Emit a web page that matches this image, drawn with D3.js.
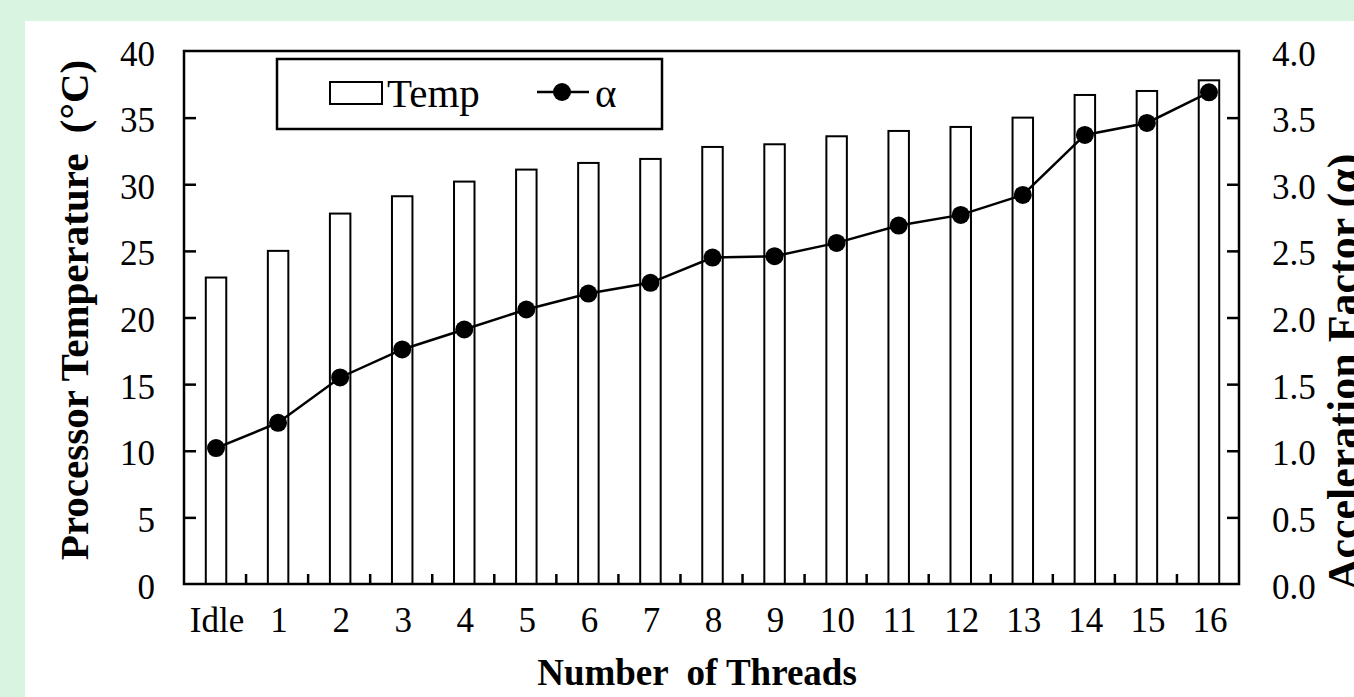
<!DOCTYPE html>
<html>
<head>
<meta charset="utf-8">
<script src="https://cdn.jsdelivr.net/npm/d3@7"></script>
<style>
  html, body { margin: 0; padding: 0; background: #d9f5e1; overflow: hidden; }
  svg { display: block; font-family: "Liberation Serif", "Times New Roman", serif; }
  text { white-space: pre; }
</style>
</head>
<body>
<svg id="chart" width="1354" height="697"></svg>
<script>
// values
const categories = ["Idle", "1", "2", "3", "4", "5", "6", "7", "8", "9", "10", "11", "12", "13", "14", "15", "16"];
const tempValues = [23.0, 25.0, 27.8, 29.1, 30.2, 31.1, 31.6, 31.9, 32.8, 33.0, 33.6, 34.0, 34.3, 35.0, 36.7, 37.0, 37.8];
const alphaValues = [1.02, 1.21, 1.55, 1.76, 1.91, 2.06, 2.18, 2.26, 2.45, 2.46, 2.56, 2.69, 2.77, 2.92, 3.37, 3.46, 3.69];
const leftTicks = [0, 5, 10, 15, 20, 25, 30, 35, 40];
const rightTicks = [0, 0.5, 1, 1.5, 2, 2.5, 3, 3.5, 4];

const svg = d3.select("#chart");
const W = 1354, H = 697;
const plot = { left: 184, right: 1239, top: 51, bottom: 584 };

// white panel
svg.append("rect").attr("x", 25).attr("y", 21).attr("width", W - 25).attr("height", H - 21).attr("fill", "#fff");

const x = d3.scaleBand().domain(categories).range([plot.left, plot.right]).padding(0);
const yL = d3.scaleLinear().domain([0, 40]).range([plot.bottom, plot.top]);
const yR = d3.scaleLinear().domain([0, 4]).range([plot.bottom, plot.top]);
const barW = x.bandwidth() * 0.33;
const cx = (i) => x(categories[i]) + x.bandwidth() / 2 + 1;

const g = svg.append("g");

// bars
g.selectAll("rect.bar")
  .data(tempValues)
  .join("rect")
  .attr("class", "bar")
  .attr("x", (d, i) => cx(i) - barW / 2)
  .attr("y", (d) => yL(d))
  .attr("width", barW)
  .attr("height", (d) => plot.bottom - yL(d))
  .attr("fill", "#fff")
  .attr("stroke", "#000")
  .attr("stroke-width", 2);

// frame
g.append("rect")
  .attr("x", plot.left).attr("y", plot.top)
  .attr("width", plot.right - plot.left).attr("height", plot.bottom - plot.top)
  .attr("fill", "none").attr("stroke", "#000").attr("stroke-width", 2.5);

// left axis (ticks inward)
const axL = d3.axisLeft(yL).tickValues(leftTicks).tickSize(-12).tickPadding(29).tickFormat(d3.format("d"));
const gL = svg.append("g").attr("transform", `translate(${plot.left},0)`).call(axL);
// right axis (ticks inward)
const axR = d3.axisRight(yR).tickValues(rightTicks).tickSize(-12).tickPadding(33).tickFormat(d3.format(".1f"));
const gR = svg.append("g").attr("transform", `translate(${plot.right},0)`).call(axR);

[gL, gR].forEach((a) => {
  a.select(".domain").remove();
  a.selectAll(".tick line").attr("stroke", "#000").attr("stroke-width", 2.5);
  a.selectAll(".tick text").attr("fill", "#000").attr("font-size", 35).attr("dy", "0.4em")
    .attr("font-family", "Liberation Serif, Times New Roman, serif");
});
gL.selectAll(".tick").filter((d) => d === 0 || d === 40).select("line").remove();
gR.selectAll(".tick").filter((d) => d === 0 || d === 4).select("line").remove();

// x tick marks at band boundaries, pointing up
const bounds = categories.slice(1).map((c) => x(c));
g.selectAll("line.xtick")
  .data(bounds)
  .join("line")
  .attr("x1", (d) => d).attr("x2", (d) => d)
  .attr("y1", plot.bottom).attr("y2", plot.bottom - 10)
  .attr("stroke", "#000").attr("stroke-width", 2.5);

// x labels
g.selectAll("text.xlab")
  .data(categories)
  .join("text")
  .attr("x", (d, i) => cx(i) + 1)
  .attr("y", 632)
  .attr("text-anchor", "middle")
  .attr("font-size", 35)
  .text((d) => d);

// alpha line + markers
const line = d3.line().x((d, i) => cx(i)).y((d) => yR(d));
g.append("path").datum(alphaValues).attr("d", line)
  .attr("fill", "none").attr("stroke", "#000").attr("stroke-width", 2.5);
g.selectAll("circle.pt")
  .data(alphaValues)
  .join("circle")
  .attr("class", "pt")
  .attr("cx", (d, i) => cx(i))
  .attr("cy", (d) => yR(d))
  .attr("r", 9)
  .attr("fill", "#000");

// legend
const lg = svg.append("g");
lg.append("rect").attr("x", 277).attr("y", 59).attr("width", 385).attr("height", 70)
  .attr("fill", "#fff").attr("stroke", "#000").attr("stroke-width", 2.5);
lg.append("rect").attr("x", 330).attr("y", 82).attr("width", 52).attr("height", 22)
  .attr("fill", "#fff").attr("stroke", "#000").attr("stroke-width", 2);
lg.append("text").attr("x", 387).attr("y", 107).attr("font-size", 41).text("Temp");
lg.append("line").attr("x1", 537).attr("x2", 589).attr("y1", 92).attr("y2", 92)
  .attr("stroke", "#000").attr("stroke-width", 2.5);
lg.append("circle").attr("cx", 562).attr("cy", 92).attr("r", 9).attr("fill", "#000");
lg.append("text").attr("x", 595).attr("y", 107).attr("font-size", 41).text("α");

// axis titles
svg.append("text")
  .attr("transform", "translate(88,310) rotate(-90)")
  .attr("text-anchor", "middle").attr("font-size", 41).attr("font-weight", "bold")
  .text("Processor Temperature  (°C)");
svg.append("text")
  .attr("x", 697).attr("y", 685)
  .attr("text-anchor", "middle").attr("font-size", 37).attr("font-weight", "bold")
  .text("Number  of Threads");
// the reference crops this title at the right edge
svg.append("text")
  .attr("transform", "translate(1358,372) rotate(-90)")
  .attr("text-anchor", "middle").attr("font-size", 44).attr("font-weight", "bold")
  .text("Acceleration Factor (α)");
</script>
</body>
</html>
